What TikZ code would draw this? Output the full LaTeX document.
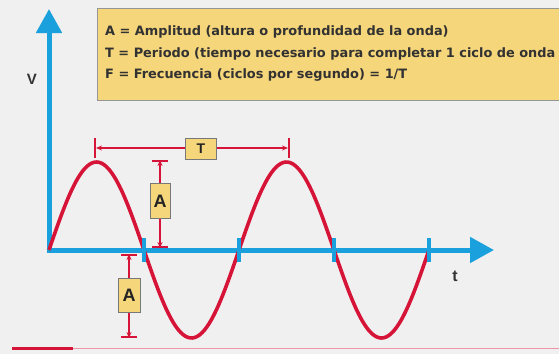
\documentclass[tikz,border=0pt]{standalone}
\usepackage{fontspec}
\setmainfont{Liberation Sans}
\newfontfamily\legendfont{DejaVu Sans}
\usetikzlibrary{arrows.meta}
\definecolor{bg}{RGB}{240,240,240}
\definecolor{wavered}{RGB}{214,20,56}
\definecolor{axisblue}{RGB}{26,160,220}
\definecolor{boxyellow}{RGB}{246,214,122}
\definecolor{boxborder}{RGB}{150,150,150}
\definecolor{labelgray}{RGB}{50,50,50}
\definecolor{pinkline}{RGB}{238,150,168}
\tikzset{
  axisline/.style={axisblue, line width=5pt, -{Triangle[length=24pt,width=25pt]}},
  tickmark/.style={axisblue, line width=4pt},
  wave/.style={wavered, line width=3.6pt},
  dimarrow/.style={wavered, line width=1.4pt, {Stealth[length=6pt,width=5pt]}-{Stealth[length=6pt,width=5pt]}},
  dimbar/.style={wavered, line width=1.6pt},
  tagbox/.style={draw=boxborder!80!black, fill=boxyellow, line width=1pt, inner sep=0pt, font=\bfseries, text=labelgray!70!black},
  axislabel/.style={font=\bfseries, text=labelgray},
  legendtext/.style={anchor=west, inner sep=0pt, font=\legendfont\bfseries\fontsize{12.9}{14}\selectfont, text=labelgray}
}
\begin{document}
\begin{tikzpicture}[x=1pt, y=-1pt]
\useasboundingbox (0,0) rectangle (559,354);
\clip (0,0) rectangle (559,354);
\fill[bg] (0,0) rectangle (559,354);

% legend box
\node[draw=boxborder, fill=boxyellow, line width=1.2pt, minimum width=470pt, minimum height=92pt, anchor=north west, inner sep=0pt] (legend) at (97,8) {};
\node[legendtext] (l1) at (105,32) {A = Amplitud (altura o profundidad de la onda)};
\node[legendtext] (l2) at (105,54) {T = Periodo (tiempo necesario para completar 1 ciclo de onda};
\node[legendtext] (l3) at (105,75) {F = Frecuencia (ciclos por segundo) = 1/T};

% axes
\coordinate (O) at (49,250);
\coordinate (ytip) at (49,9);
\coordinate (xtip) at (494,250);
\draw[axisline] ([yshift=2.5pt]O) -- (ytip);
\draw[axisline] ([xshift=-2.5pt]O) -- (xtip);
\node[axislabel, font=\bfseries\fontsize{15}{15}\selectfont] (V) at (32,79) {V};
\node[axislabel, font=\bfseries\fontsize{16}{16}\selectfont] (t) at (455,276) {t};

% wave
\draw[wave] plot[domain=49:429, samples=160, smooth] (\x, {250-88*sin((\x-49)/95*180)});

% ticks at zero crossings
\foreach \xx/\nm in {144/z1, 239/z2, 334/z3, 429/z4}{
  \coordinate (\nm t) at (\xx,238);
  \coordinate (\nm b) at (\xx,262);
  \draw[tickmark] (\nm t) -- (\nm b);
}

% T dimension
\coordinate (Ta) at (95,148);
\coordinate (Tb) at (289,148);
\draw[dimbar] ([yshift=-10pt]Ta) -- ([yshift=10pt]Ta);
\draw[dimbar] ([yshift=-10pt]Tb) -- ([yshift=10pt]Tb);
\draw[dimarrow] ([xshift=1pt]Ta) -- ([xshift=-1pt]Tb);
\node[tagbox, minimum width=31pt, minimum height=21pt, font=\bfseries\fontsize{14}{14}\selectfont] (Tbox) at (201,149) {T};

% upper A dimension
\coordinate (Aa) at (160,161);
\coordinate (Ab) at (160,247);
\draw[dimbar] ([xshift=-8pt]Aa) -- ([xshift=8pt]Aa);
\draw[dimbar] ([xshift=-8pt]Ab) -- ([xshift=8pt]Ab);
\draw[dimarrow] ([yshift=1pt]Aa) -- ([yshift=-1pt]Ab);
\node[tagbox, minimum width=20pt, minimum height=35pt, font=\bfseries\fontsize{18}{18}\selectfont] (Abox1) at (160,201) {A};

% lower A dimension
\coordinate (Ac) at (129,255);
\coordinate (Ad) at (129,337);
\draw[dimbar] ([xshift=-8pt]Ac) -- ([xshift=8pt]Ac);
\draw[dimbar] ([xshift=-8pt]Ad) -- ([xshift=8pt]Ad);
\draw[dimarrow] ([yshift=1pt]Ac) -- ([yshift=-1pt]Ad);
\node[tagbox, minimum width=22pt, minimum height=34pt, font=\bfseries\fontsize{18}{18}\selectfont] (Abox2) at (129,295) {A};

% bottom rule
\coordinate (r0) at (12,348.5);
\coordinate (r1) at (559,348.5);
\coordinate (r2) at (73,348.5);
\draw[pinkline, line width=1.5pt] (r0) -- (r1);
\draw[wavered, line width=3.5pt] (r0) -- (r2);
\end{tikzpicture}
\end{document}
